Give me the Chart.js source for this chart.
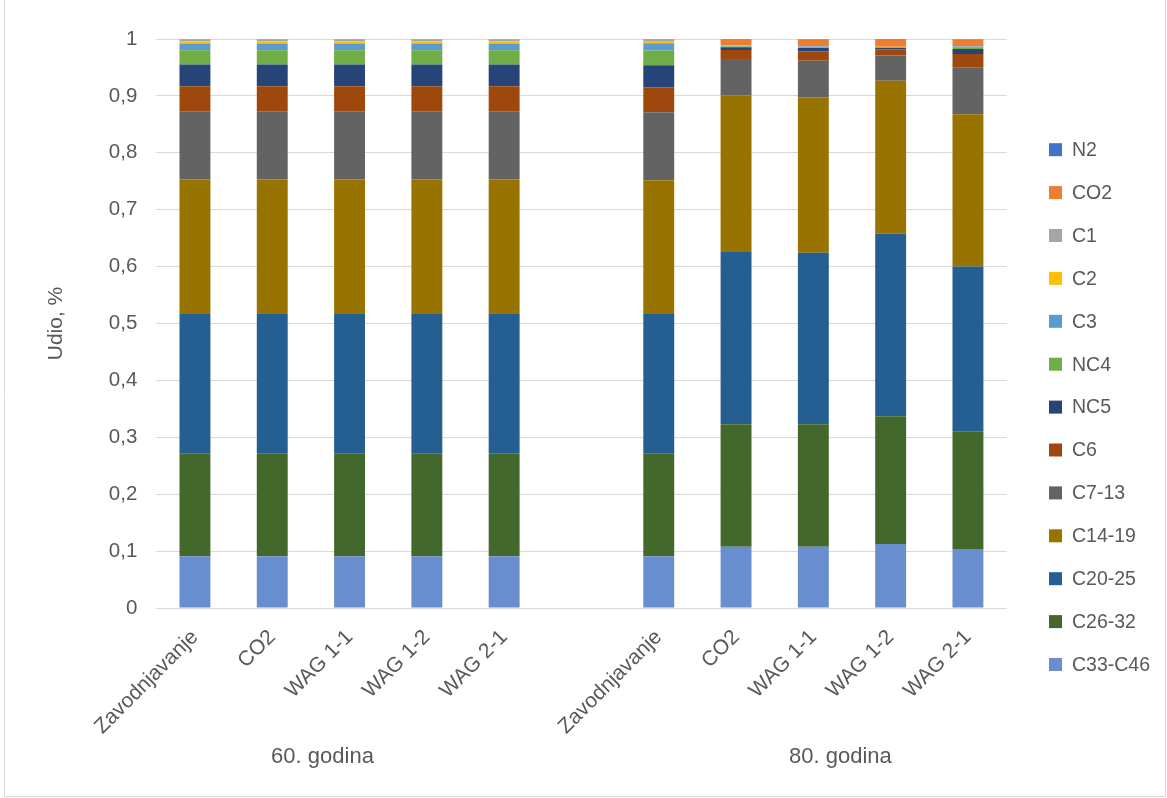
<!DOCTYPE html>
<html>
<head>
<meta charset="utf-8">
<script src="https://cdn.jsdelivr.net/npm/chart.js@4/dist/chart.umd.min.js"></script>
<style>
  html, body { margin: 0; padding: 0; background: #ffffff; }
  #wrap { width: 1167px; height: 798px; position: relative; }
</style>
</head>
<body>
<div id="wrap"><canvas id="c"></canvas></div>
<script>
// ---- data ----
const categories = ['Zavodnjavanje', 'CO2', 'WAG 1-1', 'WAG 1-2', 'WAG 2-1'];
const groupNames = ['60. godina', '80. godina'];
const yTickValues = [0, 0.1, 0.2, 0.3, 0.4, 0.5, 0.6, 0.7, 0.8, 0.9, 1];

// each series: 5 values for 60. godina, then 5 values for 80. godina
const C33_C46 = [0.091, 0.091, 0.091, 0.091, 0.091, 0.0908, 0.1078, 0.1078, 0.1125, 0.1037];
const C26_32  = [0.180, 0.180, 0.180, 0.180, 0.180, 0.1802, 0.2150, 0.2150, 0.2245, 0.2068];
const C20_25  = [0.247, 0.247, 0.247, 0.247, 0.247, 0.2470, 0.3042, 0.3017, 0.3210, 0.2895];
const C14_19  = [0.235, 0.235, 0.235, 0.235, 0.235, 0.2337, 0.2740, 0.2730, 0.2688, 0.2676];
const C7_13   = [0.120, 0.120, 0.120, 0.120, 0.120, 0.1195, 0.0639, 0.0644, 0.0442, 0.0826];
const C6      = [0.044, 0.044, 0.044, 0.044, 0.044, 0.0440, 0.0158, 0.0164, 0.0110, 0.0234];
const NC5     = [0.038, 0.038, 0.038, 0.038, 0.038, 0.0387, 0.0047, 0.0059, 0.0023, 0.0088];
const NC4     = [0.0252, 0.0252, 0.0252, 0.0252, 0.0252, 0.0257, 0.0015, 0.0015, 0.0010, 0.0030];
const C3      = [0.0117, 0.0117, 0.0117, 0.0117, 0.0117, 0.0130, 0.0010, 0.0010, 0.0008, 0.0012];
const C2      = [0.004, 0.004, 0.004, 0.004, 0.004, 0.0040, 0.0003, 0.0003, 0.0002, 0.0003];
const C1      = [0.0035, 0.0035, 0.0035, 0.0035, 0.0035, 0.0035, 0.0003, 0.0003, 0.0002, 0.0003];
const CO2     = [0, 0, 0, 0, 0, 0, 0.0115, 0.0120, 0.0135, 0.0125];
const N2      = [0.0006, 0.0006, 0.0006, 0.0006, 0.0006, 0.0001, 0, 0.0005, 0.0002, 0.0003];

const seriesNames  = ['C33-C46', 'C26-32', 'C20-25', 'C14-19', 'C7-13', 'C6', 'NC5', 'NC4', 'C3', 'C2', 'C1', 'CO2', 'N2'];
const seriesValues = [C33_C46, C26_32, C20_25, C14_19, C7_13, C6, NC5, NC4, C3, C2, C1, CO2, N2];
const seriesColors = ['#698ED0', '#43682B', '#255E91', '#997300', '#636363', '#9E480E', '#264478',
                      '#70AD47', '#5B9BD5', '#FFC000', '#A5A5A5', '#ED7D31', '#4472C4'];

// ---- build chart data (one empty slot between the two groups) ----
const withGap = arr => [...arr.slice(0, 5), null, ...arr.slice(5)];
const labels = [...categories, '', ...categories];

const FONT = '"Liberation Sans", Arial, sans-serif';
const TXT = '#595959';
const GRID = '#D9D9D9';

const datasets = seriesNames.map((name, i) => ({
  label: name,
  data: withGap(seriesValues[i]),
  backgroundColor: seriesColors[i],
  borderWidth: 0,
  barPercentage: 0.4,
  categoryPercentage: 1.0
}));

const decor = {
  id: 'decor',
  afterDraw(chart) {
    const ctx = chart.ctx;
    const xs = chart.scales.x;
    ctx.save();
    // frame
    ctx.strokeStyle = GRID;
    ctx.lineWidth = 1;
    ctx.beginPath();
    ctx.moveTo(4.5, 0);
    ctx.lineTo(4.5, 796.5);
    ctx.lineTo(1165.5, 796.5);
    ctx.lineTo(1165.5, 0);
    ctx.stroke();

    // group labels
    ctx.fillStyle = TXT;
    ctx.font = '22px ' + FONT;
    ctx.textAlign = 'center';
    ctx.textBaseline = 'middle';
    const gx = [xs.getPixelForValue(1.65), xs.getPixelForValue(8.35)];
    groupNames.forEach((g, i) => ctx.fillText(g, gx[i], 757));

    // legend (reversed order: N2 at top)
    ctx.font = '19.5px ' + FONT;
    ctx.textAlign = 'left';
    const order = seriesNames.map((n, i) => i).reverse();
    order.forEach((di, k) => {
      const cy = 149.7 + k * 42.9;
      ctx.fillStyle = seriesColors[di];
      ctx.fillRect(1049, cy - 6.5, 13, 13);
      ctx.fillStyle = TXT;
      ctx.fillText(seriesNames[di], 1072, cy + 1);
    });
    ctx.restore();
  }
};

new Chart(document.getElementById('c'), {
  type: 'bar',
  data: { labels, datasets },
  options: {
    responsive: true,
    maintainAspectRatio: false,
    animation: false,
    layout: { padding: { left: 0, top: 39, right: 160.4, bottom: 0 } },
    plugins: {
      legend: { display: false },
      tooltip: { enabled: false }
    },
    scales: {
      x: {
        stacked: true,
        grid: { display: false, drawTicks: false },
        border: { display: true, color: GRID, width: 1 },
        ticks: {
          autoSkip: false,
          maxRotation: 45,
          minRotation: 45,
          padding: 17,
          color: TXT,
          font: { family: FONT, size: 21 }
        },
        afterFit(scale) { scale.height = 190; }
      },
      y: {
        stacked: true,
        min: 0,
        max: 1,
        afterBuildTicks(scale) { scale.ticks = yTickValues.map(v => ({ value: v })); },
        grid: { color: GRID, lineWidth: 1, drawTicks: false },
        border: { display: false },
        ticks: {
          padding: 19,
          color: TXT,
          font: { family: FONT, size: 20.5 },
          callback: v => (Math.abs(v) < 1e-9 ? '0' : Math.abs(v - 1) < 1e-9 ? '1' : v.toFixed(1).replace('.', ','))
        },
        title: {
          display: true,
          text: 'Udio, %',
          color: TXT,
          font: { family: FONT, size: 21 },
          padding: { top: 44, bottom: 0 }
        },
        afterFit(scale) { scale.width = 156.3; }
      }
    }
  },
  plugins: [decor]
});
</script>
</body>
</html>
